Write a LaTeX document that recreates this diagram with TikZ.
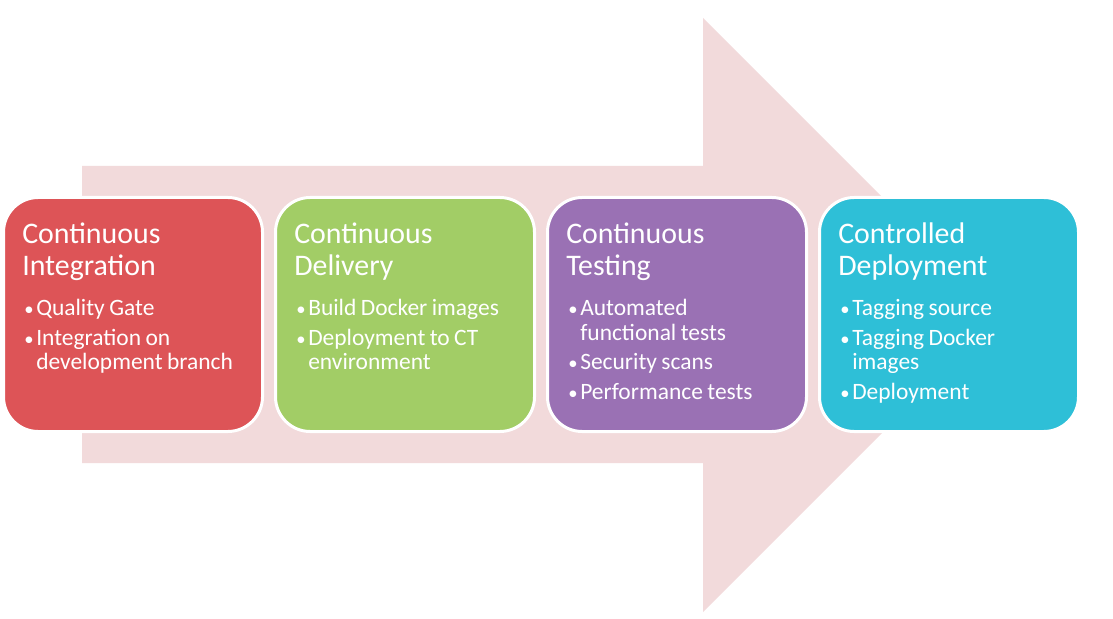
\documentclass[tikz,border=0pt]{standalone}
\usepackage{fontspec}
\setmainfont{Carlito}
\usetikzlibrary{positioning}
\definecolor{flowpink}{HTML}{F2DADB}
\definecolor{cired}{HTML}{DD5457}
\definecolor{cdgreen}{HTML}{A2CD66}
\definecolor{ctpurple}{HTML}{9A71B4}
\definecolor{cdcyan}{HTML}{2EBFD7}
\newcommand{\bpoint}[1]{\par\vspace{4pt}\noindent\hangindent=10.5pt\hangafter=1\makebox[10.5pt][l]{\hspace{1.5pt}\raisebox{0.3pt}{\fontsize{14pt}{14pt}\selectfont\textbullet}}#1\par}
\newcommand{\stagehead}[1]{{\fontsize{22.4pt}{23.6pt}\selectfont #1\par}\fontsize{17.6pt}{18.4pt}\selectfont\setlength{\parskip}{0pt}\vspace{7.7pt}}
\tikzset{
	stage/.style={draw=white, line width=2.25pt, rounded corners=26pt, minimum width=194.25pt, minimum height=175.5pt, inner sep=0pt},
	stagetext/.style={anchor=base west, text=white, align=left, inner sep=0pt, text width=175pt}
}
\begin{document}
\begin{tikzpicture}[x=0.75pt, y=0.75pt]
			%%%%% START %%%%%
			\useasboundingbox (0, 0) rectangle (1113, 618);
			
			\draw[fill=flowpink, draw=none] (82, 452) -- (703, 452) -- (703, 600) -- (1000, 303) -- (703, 6) -- (703, 155) -- (82, 155) -- cycle;
			
			\node[stage, fill=cired] (ci) at (133, 303.5) {};
			\node[stage, fill=cdgreen, right=7.5pt of ci] (cd) {};
			\node[stage, fill=ctpurple, right=7.5pt of cd] (ct) {};
			\node[stage, fill=cdcyan, right=7.5pt of ct] (cdep) {};
			
			\node[stagetext] (ci-text) at ([xshift=15pt, yshift=-36pt]ci.north west) {\stagehead{Continuous\\Integration}
				\bpoint{Quality Gate}
				\bpoint{Integration on\newline development branch}};
			\node[stagetext] (cd-text) at ([xshift=15pt, yshift=-36pt]cd.north west) {\stagehead{Continuous\\Delivery}
				\bpoint{Build Docker images}
				\bpoint{Deployment to CT\newline environment}};
			\node[stagetext] (ct-text) at ([xshift=15pt, yshift=-36pt]ct.north west) {\stagehead{Continuous\\Testing}
				\bpoint{Automated\newline functional tests}
				\bpoint{Security scans}
				\bpoint{Performance tests}};
			\node[stagetext] (cdep-text) at ([xshift=15pt, yshift=-36pt]cdep.north west) {\stagehead{Controlled\\Deployment}
				\bpoint{Tagging source}
				\bpoint{Tagging Docker\newline images}
				\bpoint{Deployment}};
			
			%%%%% END %%%%%
\end{tikzpicture}
\end{document}
